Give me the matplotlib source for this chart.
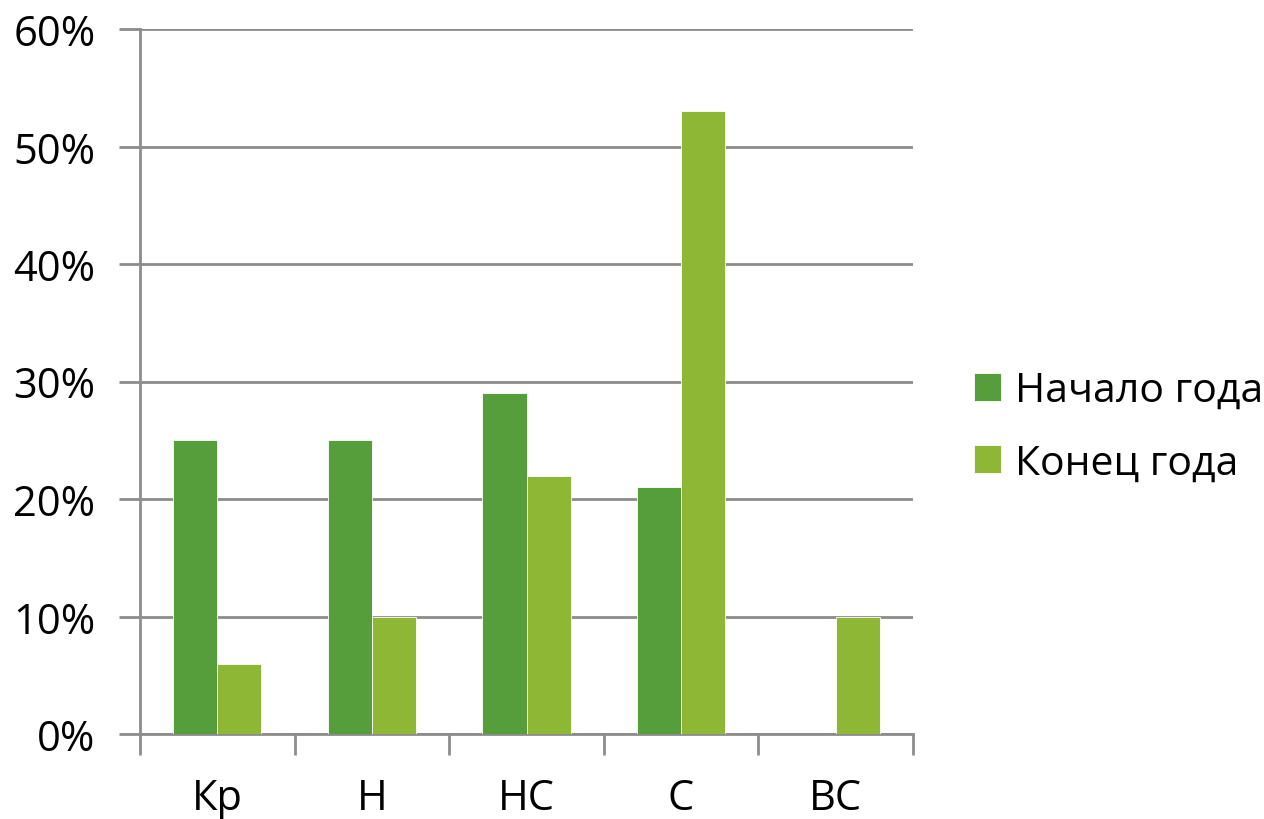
import numpy as np
import matplotlib
matplotlib.use("Agg")
import matplotlib.pyplot as plt
from matplotlib.ticker import PercentFormatter

plt.rcParams['font.family'] = ['Open Sans', 'DejaVu Sans']

categories = ['Кр', 'Н', 'НС', 'С', 'ВС']
start_year = [25, 25, 29, 21, 0]
end_year = [6, 10, 22, 53, 10]
series_names = ['Начало года', 'Конец года']

dark = '#559E3B'
light = '#8DB734'
grid_c = '#8C8C8C'

fig = plt.figure(figsize=(12.64, 8.2), dpi=100)
ax = fig.add_axes([140 / 1264, 1 - 735 / 820, 773 / 1264, 705 / 820])

x = np.arange(len(categories))
w = 0.285
b1 = ax.bar(x - w / 2, start_year, w, color=dark, edgecolor='white', linewidth=0.6, label=series_names[0], zorder=3)
b2 = ax.bar(x + w / 2, end_year, w, color=light, edgecolor='white', linewidth=0.6, label=series_names[1], zorder=3)

ax.set_xlim(-0.5, len(categories) - 0.5)
ax.set_ylim(0, 60)
ax.set_yticks(np.arange(0, 61, 10))
ax.yaxis.set_major_formatter(PercentFormatter(decimals=0))
ax.grid(axis='y', color=grid_c, linewidth=2, zorder=0)

# category labels + boundary ticks
ax.set_xticks(np.arange(-0.5, len(categories), 1))
ax.set_xticklabels([])
ax.set_xticks(x, minor=True)
ax.set_xticklabels(categories, minor=True, fontsize=30)
ax.tick_params(axis='x', which='major', length=15, width=2, color=grid_c, direction='out')
ax.tick_params(axis='x', which='minor', length=0, pad=31)
ax.tick_params(axis='y', length=15, width=2, color=grid_c, labelsize=30, pad=17)

for s in ['top', 'right']:
    ax.spines[s].set_visible(False)
for s in ['left', 'bottom']:
    ax.spines[s].set_color(grid_c)
    ax.spines[s].set_linewidth(2)

fig.legend(handles=[b1, b2], labels=series_names, loc='center left',
           bbox_to_anchor=(974 / 1264, 1 - 428 / 820), frameon=False,
           borderpad=0, borderaxespad=0,
           fontsize=29.5, handlelength=0.66, handleheight=0.66, handletextpad=0.34,
           labelspacing=0.77)

fig.savefig('out.png', dpi=100)
